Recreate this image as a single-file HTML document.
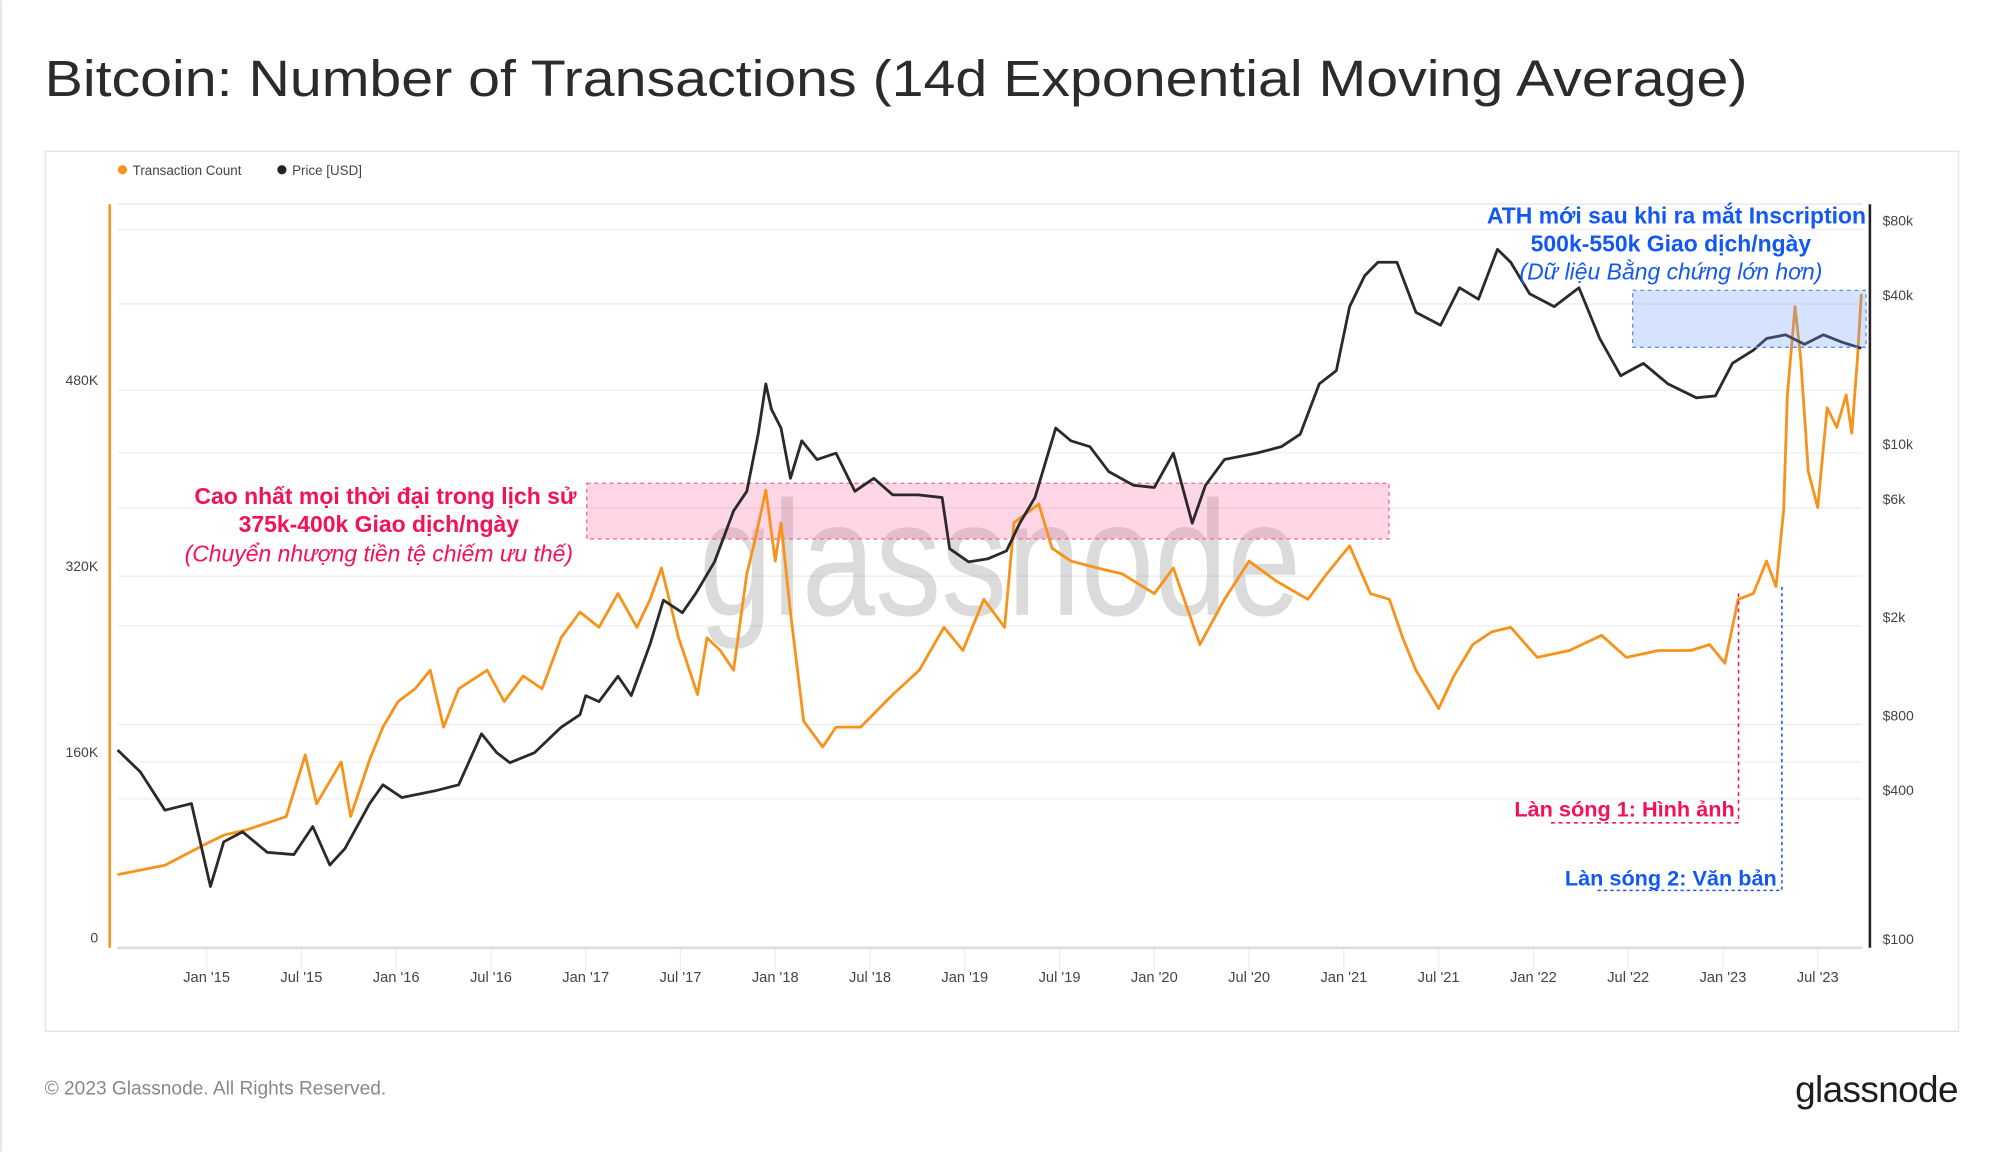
<!DOCTYPE html>
<html><head><meta charset="utf-8"><style>
html,body{margin:0;padding:0;background:#fff;width:2000px;height:1152px;overflow:hidden}
svg{display:block}
text{font-family:"Liberation Sans","DejaVu Sans",sans-serif}
</style></head><body>
<svg id="chart" width="2000" height="1152" viewBox="0 0 1568 903" xmlns="http://www.w3.org/2000/svg">
<rect x="0" y="0" width="1568" height="903" fill="#fff"/>
<line x1="0.8" y1="0" x2="0.8" y2="903" stroke="#e6e6e6" stroke-width="1.5"/>
<text x="35" y="75" font-size="40" fill="#2b2b2b" textLength="1335" lengthAdjust="spacingAndGlyphs">Bitcoin: Number of Transactions (14d Exponential Moving Average)</text>
<rect x="35.5" y="118.5" width="1500" height="690" fill="none" stroke="#e4e4e4" stroke-width="1"/>
<g>
 <g><circle cx="96" cy="133" r="3.6" fill="#f7931a"/><text x="104" y="137" font-size="10.5" fill="#444">Transaction Count</text></g>
 <g><circle cx="221" cy="133" r="3.6" fill="#222"/><text x="229" y="137" font-size="10.5" fill="#444">Price [USD]</text></g>
</g>
<g id="grid"></g>
<text x="548" y="482" font-size="128" fill="#000" fill-opacity="0.14" textLength="472" lengthAdjust="spacingAndGlyphs">glassnode</text>
<g id="annoBoxes"></g>
<g id="series"></g>
<g id="axes"></g>
<g fill="#f5105a">
 <text x="452" y="395" font-size="18" font-weight="bold" text-anchor="end">Cao nhất mọi thời đại trong lịch sử</text>
 <text x="297" y="417" font-size="18" font-weight="bold" text-anchor="middle">375k-400k Giao dịch/ngày</text>
 <text x="297" y="440" font-size="18" font-style="italic" text-anchor="middle">(Chuyển nhượng tiền tệ chiếm ưu thế)</text>
</g>
<g fill="#1258f5">
 <text x="1463" y="175" font-size="18" font-weight="bold" text-anchor="end">ATH mới sau khi ra mắt Inscription</text>
 <text x="1310" y="197" font-size="18" font-weight="bold" text-anchor="middle">500k-550k Giao dịch/ngày</text>
 <text x="1310" y="219" font-size="18" font-style="italic" text-anchor="middle">(Dữ liệu Bằng chứng lớn hơn)</text>
</g>
<g>
 <polyline points="1363,465 1363,645 1215,645" fill="none" stroke="#f5105a" stroke-width="1.2" stroke-dasharray="3,3"/>
 <text x="1360" y="640" font-size="17" font-weight="bold" fill="#f5105a" text-anchor="end">Làn sóng 1: Hình ảnh</text>
</g>
<g>
 <polyline points="1397,460 1397,698 1250,698" fill="none" stroke="#1258f5" stroke-width="1.2" stroke-dasharray="2.5,2.5"/>
 <text x="1393" y="694" font-size="17" font-weight="bold" fill="#1258f5" text-anchor="end">Làn sóng 2: Văn bản</text>
</g>
<text x="35" y="858" font-size="15" fill="#888">© 2023 Glassnode. All Rights Reserved.</text>
<text x="1535" y="864" font-size="29" fill="#1e1e1e" text-anchor="end" letter-spacing="-0.5">glassnode</text>
</svg>
<script>
const NS="http://www.w3.org/2000/svg";
// Transaction count (14d EMA), thousands
const txDates=[2014.53,2014.78,2014.99,2015.09,2015.22,2015.42,2015.52,2015.58,2015.71,2015.76,2015.86,2015.93,2016.01,2016.10,2016.18,2016.25,2016.33,2016.48,2016.57,2016.67,2016.77,2016.87,2016.97,2017.07,2017.17,2017.27,2017.34,2017.40,2017.49,2017.59,2017.64,2017.71,2017.78,2017.85,2017.89,2017.95,2018.00,2018.03,2018.08,2018.15,2018.25,2018.32,2018.45,2018.62,2018.76,2018.89,2018.99,2019.10,2019.21,2019.26,2019.39,2019.46,2019.56,2019.70,2019.83,2020.00,2020.10,2020.24,2020.37,2020.50,2020.64,2020.81,2020.91,2021.03,2021.14,2021.24,2021.31,2021.38,2021.50,2021.58,2021.68,2021.78,2021.88,2022.02,2022.19,2022.36,2022.49,2022.66,2022.83,2022.93,2023.01,2023.08,2023.16,2023.23,2023.28,2023.32,2023.34,2023.38,2023.41,2023.45,2023.50,2023.55,2023.60,2023.65,2023.68,2023.71,2023.73];
const txValues=[63,71,89,97,102,113,166,124,160,113,162,190,212,223,239,190,223,239,212,234,223,267,289,276,305,276,300,327,267,218,267,256,239,322,349,394,333,366,289,195,173,190,190,218,239,276,256,300,276,366,382,344,333,327,322,305,327,261,300,333,316,300,322,346,305,300,267,239,206,234,261,272,276,250,256,269,250,256,256,261,245,300,305,333,311,377,476,552,508,410,379,465,448,476,443,508,563];
// Price USD
const pxDates=[2014.53,2014.65,2014.78,2014.92,2015.02,2015.09,2015.19,2015.32,2015.46,2015.56,2015.65,2015.73,2015.86,2015.93,2016.03,2016.20,2016.33,2016.45,2016.53,2016.60,2016.73,2016.87,2016.97,2017.00,2017.07,2017.17,2017.24,2017.34,2017.41,2017.51,2017.58,2017.68,2017.78,2017.85,2017.91,2017.95,2017.98,2018.03,2018.08,2018.14,2018.22,2018.32,2018.42,2018.52,2018.62,2018.755,2018.88,2018.92,2019.02,2019.12,2019.22,2019.29,2019.37,2019.43,2019.48,2019.56,2019.66,2019.76,2019.89,2020.00,2020.10,2020.20,2020.27,2020.37,2020.54,2020.67,2020.77,2020.87,2020.96,2021.03,2021.11,2021.18,2021.28,2021.38,2021.51,2021.61,2021.71,2021.81,2021.88,2021.98,2022.11,2022.24,2022.35,2022.46,2022.58,2022.71,2022.86,2022.96,2023.05,2023.16,2023.23,2023.33,2023.43,2023.53,2023.63,2023.73];
const pxValues=[630,514,360,383,177,268,294,243,238,309,216,252,383,456,405,430,456,733,615,560,615,778,876,1045,988,1252,1045,1690,2540,2260,2700,3630,5830,7000,11900,19000,15000,12600,7900,11200,9400,9980,7000,7900,6770,6770,6600,4100,3630,3730,4020,5200,6600,9400,12600,11200,10600,8400,7400,7250,9980,5200,7400,9400,9980,10600,11900,19000,21500,39000,52000,59000,59000,37000,32800,46500,41800,66500,59000,44000,39000,46500,29000,20500,23000,19000,16700,17000,23000,26000,29000,30000,27500,30000,28000,26500];
const leftTicks=[0,160,320,480];
const leftTickLabels=["0","160K","320K","480K"];
const rightTicks=[100,400,800,2000,6000,10000,40000,80000];
const rightTickLabels=["$100","$400","$800","$2k","$6k","$10k","$40k","$80k"];
const xTicks=[2015,2015.5,2016,2016.5,2017,2017.5,2018,2018.5,2019,2019.5,2020,2020.5,2021,2021.5,2022,2022.5,2023,2023.5];
const xTickLabels=["Jan '15","Jul '15","Jan '16","Jul '16","Jan '17","Jul '17","Jan '18","Jul '18","Jan '19","Jul '19","Jan '20","Jul '20","Jan '21","Jul '21","Jan '22","Jul '22","Jan '23","Jul '23"];
const pinkBand=[352,400];
const blueBand=[517,566];

const X=t=>162+(t-2015)*148.6;
const YL=v=>743-v*145.7/160;
const YR=p=>743-194*Math.log10(p/100);
const X0=92,X1=1460,YT=160,YB=743;
function mk(tag,attrs,parent){const e=document.createElementNS(NS,tag);for(const k in attrs)e.setAttribute(k,attrs[k]);parent.appendChild(e);return e;}
const grid=document.getElementById('grid'),axes=document.getElementById('axes'),series=document.getElementById('series'),boxes=document.getElementById('annoBoxes');
mk('line',{x1:X0,x2:X1,y1:YT,y2:YT,stroke:'#ebebeb','stroke-width':1.2},grid);
leftTicks.forEach((v,i)=>{
 const y=YL(v);
 if(i>0){const g=mk('line',{x1:X0,x2:X1,y1:y,y2:y,stroke:'#eeeeee','stroke-width':1},grid);
 
 }
 const t=mk('text',{x:77,y:y-4,'font-size':11,fill:'#444','text-anchor':'end'},axes);t.textContent=leftTickLabels[i];
 
 
});
rightTicks.forEach((p,i)=>{
 const y=YR(p);
 if(i>0){const g=mk('line',{x1:X0,x2:X1,y1:y,y2:y,stroke:'#eeeeee','stroke-width':1},grid);
 
 }
 const t=mk('text',{x:1476,y:y-3,'font-size':11,fill:'#444'},axes);t.textContent=rightTickLabels[i];
 
 
});
xTicks.forEach((d,i)=>{
 const x=X(d);
 mk('line',{x1:x,x2:x,y1:YB,y2:YB+18,stroke:'#eeeeee','stroke-width':1},grid);
 const t=mk('text',{x:x,y:770,'font-size':11.5,fill:'#444','text-anchor':'middle'},axes);t.textContent=xTickLabels[i];
 
 
});
const xa=mk('line',{x1:X0,x2:X1,y1:YB,y2:YB,stroke:'#dddddd','stroke-width':2},axes);


const la=mk('line',{x1:86,x2:86,y1:YT,y2:YB,stroke:'#f7931a','stroke-width':2},axes);


const ra=mk('line',{x1:1466,x2:1466,y1:YT,y2:YB,stroke:'#222','stroke-width':2},axes);


// bands
const pb=mk('rect',{x:460,width:629,y:YL(pinkBand[1]),height:YL(pinkBand[0])-YL(pinkBand[1]),fill:'#ff6aa0','fill-opacity':0.28,stroke:'#f06292','stroke-dasharray':'3,3','stroke-width':1},boxes);


// series lines
function line(dates,vals,yf,color,name){
 const pts=dates.map((d,i)=>X(d).toFixed(1)+','+yf(vals[i]).toFixed(1)).join(' ');
 const p=mk('polyline',{points:pts,fill:'none',stroke:color,'stroke-width':2.2,'stroke-linejoin':'round'},series);
 
 
}
line(txDates,txValues,YL,'#f7931a','transaction-count-line');
line(pxDates,pxValues,YR,'#2a2a2a','price-line');
const bb=mk('rect',{x:1280,width:183,y:YL(blueBand[1]),height:YL(blueBand[0])-YL(blueBand[1]),fill:'#6a9cff','fill-opacity':0.28,stroke:'#5b8df5','stroke-dasharray':'3,3','stroke-width':1},series);


</script>
</body></html>
